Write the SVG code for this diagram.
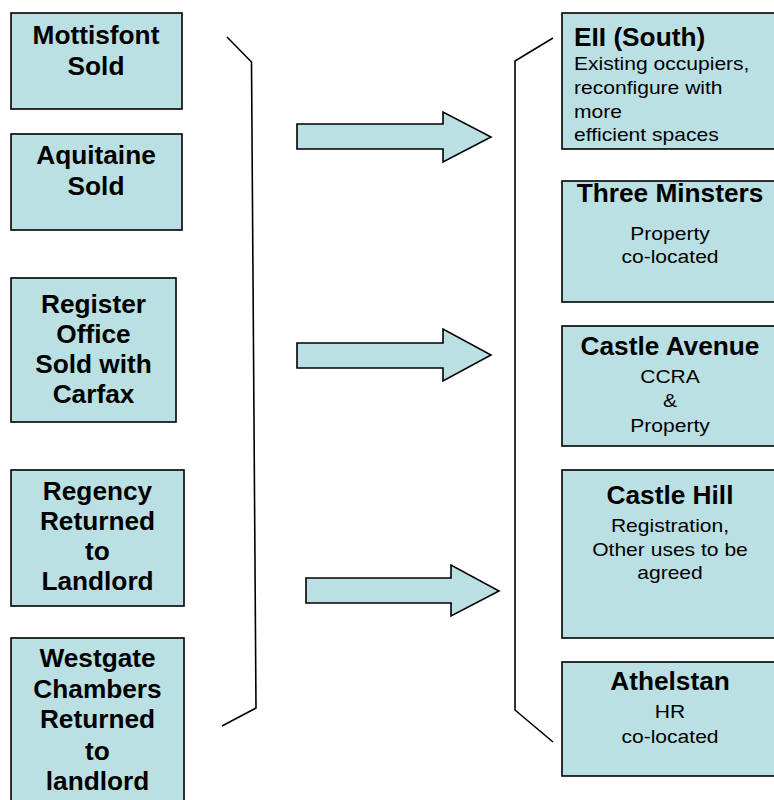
<svg xmlns="http://www.w3.org/2000/svg" width="774" height="800" viewBox="0 0 774 800">
<style>
.box{fill:#BBE0E3;stroke:#000;stroke-width:1.6}
.arrow{fill:#BBE0E3;stroke:#000;stroke-width:1.6;stroke-linejoin:miter}
.br{fill:none;stroke:#000;stroke-width:1.6}
.b{font-family:"Liberation Sans",Arial,sans-serif;font-weight:bold;font-size:25px;fill:#000}
.r{font-family:"Liberation Sans",Arial,sans-serif;font-size:18px;fill:#000}
.m{text-anchor:middle}
</style>
<rect width="774" height="800" fill="#fff"/>
<g id="connectors">
<polyline class="br" points="227,37 251.5,62 256,708 222,726"/>
<polyline class="br" points="553,38 515,61 515,710 553,742"/>
<polygon id="arrow1" class="arrow" points="297,124 443,124 443,112 491,137 443,162 443,149 297,149"/>
<polygon id="arrow2" class="arrow" points="297,343 443,343 443,329 491,355 443,381 443,368 297,368"/>
<polygon id="arrow3" class="arrow" points="306,578 451,578 451,565 499,591 451,616 451,603 306,603"/>
</g>
<g id="mottisfont">
<rect class="box" x="11" y="13" width="171" height="96"/>
<g transform="translate(96,0) scale(1.05,1)"><text class="b m" x="0" y="44">Mottisfont</text><text class="b m" x="0" y="75">Sold</text></g>
</g>
<g id="aquitaine">
<rect class="box" x="11" y="134" width="171" height="96"/>
<g transform="translate(96,0) scale(1.05,1)"><text class="b m" x="0" y="164">Aquitaine</text><text class="b m" x="0" y="195">Sold</text></g>
</g>
<g id="register-office">
<rect class="box" x="11" y="278" width="165" height="144"/>
<g transform="translate(93.5,0) scale(1.05,1)"><text class="b m" x="0" y="313">Register</text><text class="b m" x="0" y="343">Office</text><text class="b m" x="0" y="373">Sold with</text><text class="b m" x="0" y="403">Carfax</text></g>
</g>
<g id="regency">
<rect class="box" x="11" y="470" width="173" height="136"/>
<g transform="translate(97.5,0) scale(1.05,1)"><text class="b m" x="0" y="500">Regency</text><text class="b m" x="0" y="530">Returned</text><text class="b m" x="0" y="560">to</text><text class="b m" x="0" y="590">Landlord</text></g>
</g>
<g id="westgate">
<rect class="box" x="11" y="638" width="173" height="172"/>
<g transform="translate(97.5,0) scale(1.05,1)"><text class="b m" x="0" y="667">Westgate</text><text class="b m" x="0" y="698">Chambers</text><text class="b m" x="0" y="728">Returned</text><text class="b m" x="0" y="760">to</text><text class="b m" x="0" y="790">landlord</text></g>
</g>
<g id="eii-south">
<rect class="box" x="562" y="13" width="230" height="136"/>
<g transform="translate(574,0) scale(1.05,1)"><text class="b" x="0" y="46">EII (South)</text></g>
<g transform="translate(574,0) scale(1.17,1)"><text class="r" x="0" y="70.5">Existing occupiers,</text><text class="r" x="0" y="94">reconfigure with</text><text class="r" x="0" y="118">more</text><text class="r" x="0" y="141.5">efficient spaces</text></g>
</g>
<g id="three-minsters">
<rect class="box" x="562" y="181" width="230" height="121"/>
<g transform="translate(670,0) scale(1.05,1)"><text class="b m" x="0" y="202">Three Minsters</text></g>
<g transform="translate(670,0) scale(1.17,1)"><text class="r m" x="0" y="240">Property</text><text class="r m" x="0" y="263">co-located</text></g>
</g>
<g id="castle-avenue">
<rect class="box" x="562" y="326" width="230" height="120"/>
<g transform="translate(670,0) scale(1.05,1)"><text class="b m" x="0" y="355">Castle Avenue</text></g>
<g transform="translate(670,0) scale(1.17,1)"><text class="r m" x="0" y="383">CCRA</text><text class="r m" x="0" y="407">&amp;</text><text class="r m" x="0" y="432">Property</text></g>
</g>
<g id="castle-hill">
<rect class="box" x="562" y="470" width="230" height="168"/>
<g transform="translate(670,0) scale(1.05,1)"><text class="b m" x="0" y="504">Castle Hill</text></g>
<g transform="translate(670,0) scale(1.17,1)"><text class="r m" x="0" y="532">Registration,</text><text class="r m" x="0" y="556">Other uses to be</text><text class="r m" x="0" y="579">agreed</text></g>
</g>
<g id="athelstan">
<rect class="box" x="562" y="662" width="230" height="114"/>
<g transform="translate(670,0) scale(1.05,1)"><text class="b m" x="0" y="690">Athelstan</text></g>
<g transform="translate(670,0) scale(1.17,1)"><text class="r m" x="0" y="718">HR</text><text class="r m" x="0" y="743">co-located</text></g>
</g>
</svg>
